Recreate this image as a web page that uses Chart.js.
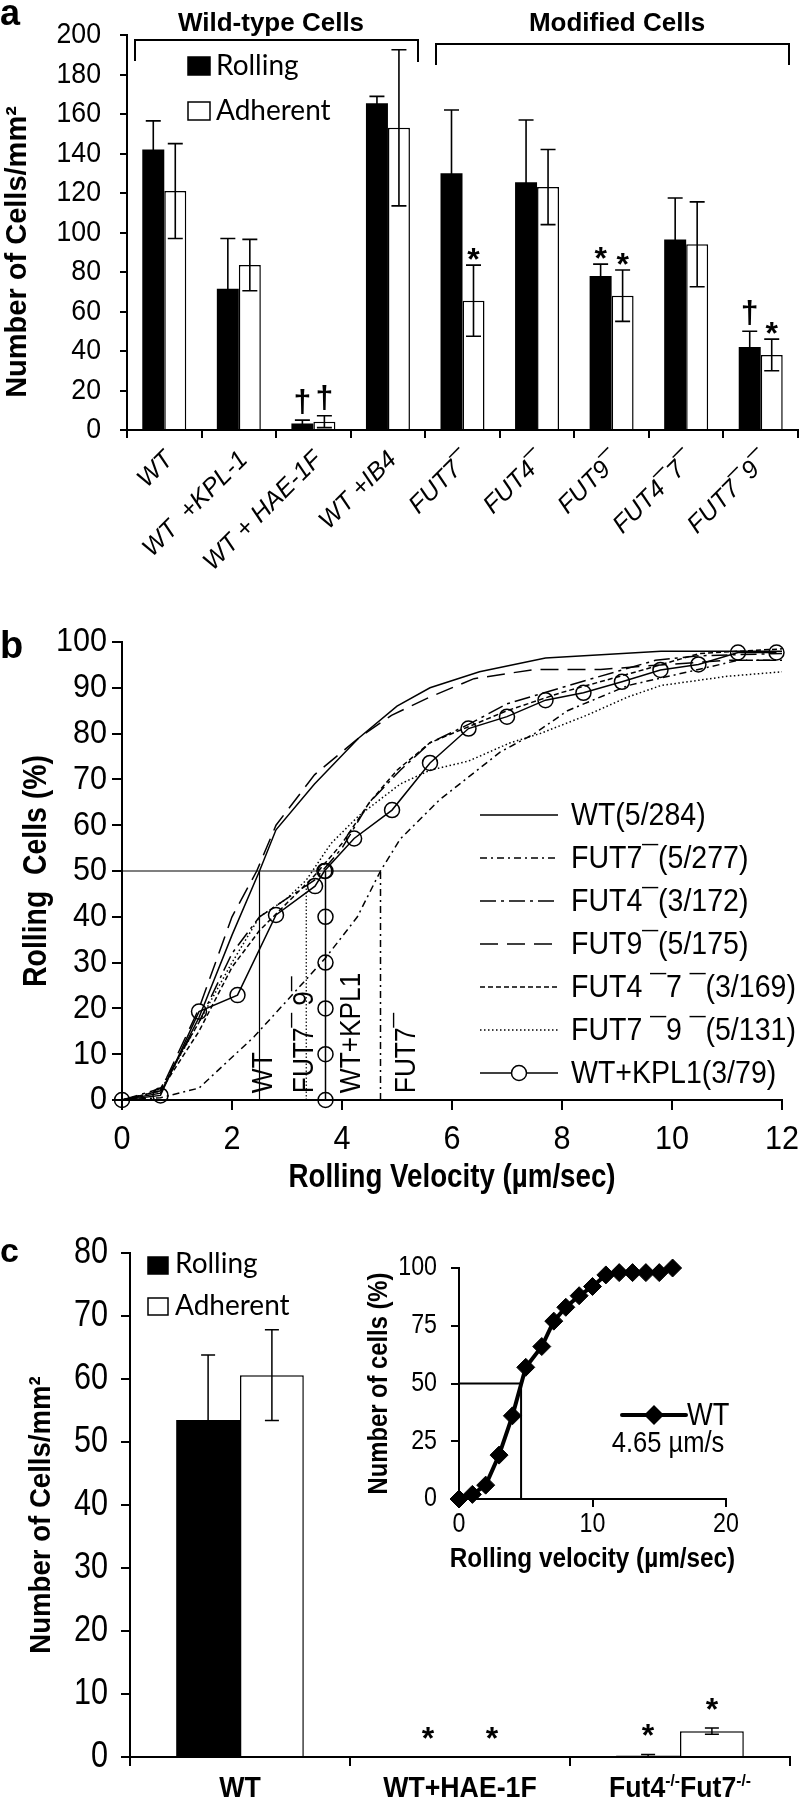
<!DOCTYPE html>
<html>
<head>
<meta charset="utf-8">
<script src="https://cdn.jsdelivr.net/npm/chart.js@4.4.1/dist/chart.umd.min.js"></script>
<style>
  body { margin: 0; background: #fff; width: 800px; height: 1800px; position: relative; overflow: hidden; }
  canvas { position: absolute; }
</style>
</head>
<body>
<canvas id="chartA" width="800" height="590" style="left:0;top:0;width:800px;height:590px"></canvas>
<canvas id="chartB" width="800" height="620" style="left:0;top:590px;width:800px;height:620px"></canvas>
<canvas id="chartC" width="800" height="590" style="left:0;top:1210px;width:800px;height:590px"></canvas>
<canvas id="chartInset" width="390" height="340" style="left:360px;top:1240px;width:390px;height:340px"></canvas>
<script>
document.addEventListener('DOMContentLoaded', function() {
    "use strict";

    var SANS = "'Liberation Sans', Arial, Helvetica, sans-serif";
    var CALI = "Lato, 'Open Sans', sans-serif";
    Chart.defaults.font.family = SANS;
    Chart.defaults.color = '#000';

    /* ---- panel a data ---- */
    var aCategories = ['WT', 'WT  +KPL-1', 'WT + HAE-1F', 'WT +IB4', 'FUT7¯', 'FUT4¯', 'FUT9¯', 'FUT4¯7¯', 'FUT7¯9¯'];
    var aRolling = [142, 71.5, 3.3, 165.5, 130, 125.5, 78, 96.5, 42];
    var aRollingErr = [14.5, 25.5, 1.7, 3.4, 32, 31.5, 6, 21, 8];
    var aAdherent = [121, 83.5, 4.2, 153, 65.5, 123, 68, 94, 38];
    var aAdherentErr = [24, 13, 3, 39.5, 18, 19, 13, 21.5, 8];
    var aRollingMarks = ['', '', '†', '', '', '', '*', '', '†'];
    var aAdherentMarks = ['', '', '†', '', '*', '', '*', '', '*'];

    /* ---- panel b data: [velocity, percent] ---- */
    var wtCurve = [[0, 0], [0.7, 1.5], [1.4, 18], [2, 36], [2.5, 50], [2.8, 59], [3.5, 69], [4.3, 79], [5, 86], [5.6, 90], [6.5, 93.5], [7.7, 96.5], [9.8, 98], [12, 98]];
    var fut7Curve = [[0, 0], [0.7, 0.5], [1.4, 2.6], [2.4, 13.8], [3.06, 22.5], [3.7, 31], [4.28, 40], [4.7, 50], [5.06, 57], [5.77, 65.5], [6.88, 76], [7.5, 80], [8.1, 85], [9.2, 90.5], [10.3, 93.5], [11.2, 96], [12, 96]];
    var fut4Curve = [[0, 0], [0.7, 2.5], [1.4, 17], [2, 32], [2.5, 40], [3, 44], [3.5, 48], [4, 55], [4.5, 65], [5.06, 72], [5.6, 78], [6.3, 82], [7, 86.5], [8.4, 91.5], [9.7, 96], [10.5, 97], [12, 97.5]];
    var fut9Curve = [[0, 0], [0.7, 2], [1.4, 20], [2, 40], [2.45, 50], [2.8, 60], [3.5, 71], [4.3, 79], [4.9, 84], [5.6, 88], [6.4, 92], [7.5, 94], [8.7, 94], [9.8, 95], [11, 96], [12, 96]];
    var fut47Curve = [[0, 0], [0.7, 2], [1.4, 15], [2, 29], [2.5, 37], [3, 43], [3.5, 49], [4, 56], [4.5, 65], [5, 72], [5.6, 78], [6.3, 81.5], [7, 85], [8, 89], [9.5, 94], [10.5, 97.5], [12, 98.5]];
    var fut79Curve = [[0, 0], [0.7, 2], [1.4, 17], [2, 30], [2.5, 40], [3, 44], [3.35, 48], [3.8, 56], [4.3, 62], [5.06, 69], [5.6, 72], [6.3, 74], [7.06, 78], [7.6, 80], [8.45, 84], [9.2, 88], [9.8, 90.5], [11, 92.5], [12, 93.5]];
    var kplCurve = [[0, 0], [0.7, 1], [1.4, 19.3], [2.1, 22.9], [2.8, 40.4], [3.51, 46.7], [3.68, 50], [4.22, 57.1], [4.91, 63.3], [5.6, 73.6], [6.3, 81.1], [7.0, 83.7], [7.7, 87.3], [8.39, 88.9], [9.09, 91.3], [9.79, 93.9], [10.48, 95.1], [11.2, 97.7], [11.9, 97.7]];
    var bLegendLabels = ['WT(5/284)', 'FUT7¯(5/277)', 'FUT4¯(3/172)', 'FUT9¯(5/175)', 'FUT4 ¯7 ¯(3/169)', 'FUT7 ¯9 ¯(5/131)', 'WT+KPL1(3/79)'];
    var halfLine = [[0, 50], [4.7, 50]];
    var wtDrop = [[2.5, 0], [2.5, 50]];
    var fut79Drop = [[3.35, 0], [3.35, 47]];
    var kplDrop = [[3.7, 0], [3.7, 10], [3.7, 20], [3.7, 30], [3.7, 40], [3.7, 50]];
    var fut7Drop = [[4.7, 0], [4.7, 50]];
    var dropLabels = ['WT', 'FUT7¯ 9¯', 'WT+KPL1', 'FUT7¯'];
    var dropLabelX = [2.57, 3.33, 4.17, 5.17];

    /* ---- panel c data ---- */
    var cCategories = ['WT', 'WT+HAE-1F', 'Fut4-/-Fut7-/-'];
    var cRolling = [53.5, 0, 0.2];
    var cRollingErr = [10.3, 0, 0.2];
    var cAdherent = [60.6, 0, 4.1];
    var cAdherentErr = [7.2, 0, 0.5];
    var cRollingMarks = ['', '*', '*'];
    var cAdherentMarks = ['', '*', '*'];

    /* ---- inset data ---- */
    var insetVelocity = [0, 1, 2, 3, 4, 5, 6.2, 7.1, 8, 9, 10, 11, 12, 13, 14, 15, 16];
    var insetPercent = [0, 2, 6, 19, 36, 57, 66, 77, 83, 88, 92, 97, 98, 98, 98, 98, 100];
    var insetHalf = 4.65;

    function toPoints(pairs) {
        return pairs.map(function(p) { return { x: p[0], y: p[1] }; });
    }

    function blackAxis(tickLen) {
        return {
            border: { display: true, color: '#000', width: 2 },
            grid: { drawOnChartArea: false, drawTicks: true, tickLength: tickLen, color: '#000', lineWidth: 2 },
            ticks: { display: false }
        };
    }

    function drawText(ctx, text, x, y, o) {
        ctx.save();
        ctx.fillStyle = '#000';
        ctx.font = o.font;
        ctx.textAlign = o.align || 'center';
        ctx.textBaseline = o.baseline || 'middle';
        ctx.translate(x, y);
        if (o.rotate) ctx.rotate(o.rotate);
        ctx.scale(o.sx || 1, 1);
        ctx.fillText(text, 0, 0);
        ctx.restore();
    }

    // tick labels and axis titles, drawn from the chart's own scales
    var axisText = {
        id: 'axisText',
        afterDraw: function(chart, args, opts) {
            var ctx = chart.ctx;
            var area = chart.chartArea;
            (opts.ticks || []).forEach(function(a) {
                var s = chart.scales[a.id];
                s.ticks.forEach(function(t, i) {
                    var p = s.getPixelForTick(i);
                    var label = a.labels ? a.labels[i] : String(t.value);
                    if (a.id === 'y') {
                        drawText(ctx, label, s.right - a.offset, p, { font: a.font, align: 'right', sx: a.sx });
                    } else if (a.rotate) {
                        drawText(ctx, label, p + (a.dx || 0), s.top + a.offset, { font: a.font, align: 'right', rotate: a.rotate, sx: a.sx });
                    } else {
                        drawText(ctx, label, p, s.top + a.offset, { font: a.font, sx: a.sx });
                    }
                });
            });
            (opts.titles || []).forEach(function(t) {
                if (t.axis === 'y') {
                    drawText(ctx, t.text, t.x, t.y !== undefined ? t.y : (area.top + area.bottom) / 2,
                             { font: t.font, rotate: -Math.PI / 2, sx: t.sx });
                } else {
                    drawText(ctx, t.text, (area.left + area.right) / 2, t.y, { font: t.font, sx: t.sx });
                }
            });
        }
    };

    // error bars + significance marks on bar charts
    var errorBars = {
        id: 'errorBars',
        afterDatasetsDraw: function(chart, args, opts) {
            var ctx = chart.ctx;
            var yScale = chart.scales.y;
            ctx.save();
            ctx.strokeStyle = '#000';
            ctx.fillStyle = '#000';
            ctx.lineWidth = opts.lineWidth;
            ctx.font = opts.markFont;
            ctx.textAlign = 'center';
            ctx.textBaseline = 'alphabetic';
            opts.errors.forEach(function(errs, di) {
                var values = chart.data.datasets[di].data;
                chart.getDatasetMeta(di).data.forEach(function(bar, i) {
                    var hi = yScale.getPixelForValue(values[i] + errs[i]);
                    var lo = yScale.getPixelForValue(Math.max(values[i] - errs[i], 0));
                    if (errs[i] > 0) {
                        ctx.beginPath();
                        ctx.moveTo(bar.x, hi); ctx.lineTo(bar.x, lo);
                        ctx.moveTo(bar.x - opts.cap, hi); ctx.lineTo(bar.x + opts.cap, hi);
                        ctx.moveTo(bar.x - opts.cap, lo); ctx.lineTo(bar.x + opts.cap, lo);
                        ctx.stroke();
                    }
                    var mark = opts.marks[di][i];
                    if (mark) {
                        var m = ctx.measureText(mark);
                        ctx.fillText(mark, bar.x, hi - opts.gap - m.actualBoundingBoxDescent);
                    }
                });
            });
            ctx.restore();
        }
    };

    function drawSwatch(ctx, x, y, w, h, fill) {
        ctx.fillStyle = fill;
        ctx.fillRect(x, y, w, h);
        ctx.strokeStyle = '#000';
        ctx.lineWidth = 1.5;
        ctx.strokeRect(x, y, w, h);
    }

    /*Panel a*/
    var panelA = {
        id: 'panelA',
        afterDraw: function(chart) {
            var ctx = chart.ctx;
            ctx.save();
            drawText(ctx, 'a', 0, 25, { font: 'bold 36px ' + SANS, align: 'left', baseline: 'alphabetic' });

            ctx.strokeStyle = '#000';
            ctx.lineWidth = 2;
            ctx.beginPath();
            ctx.moveTo(135, 61); ctx.lineTo(135, 40); ctx.lineTo(418, 40); ctx.lineTo(418, 62);
            ctx.moveTo(436, 65); ctx.lineTo(436, 44); ctx.lineTo(789, 44); ctx.lineTo(789, 65);
            ctx.stroke();

            drawText(ctx, 'Wild-type Cells', 271, 31, { font: 'bold 26px ' + SANS, baseline: 'alphabetic' });
            drawText(ctx, 'Modified Cells', 617, 31, { font: 'bold 26px ' + SANS, baseline: 'alphabetic' });

            drawSwatch(ctx, 188, 57, 22, 18, '#000');
            drawSwatch(ctx, 188, 102, 22, 18, '#fff');
            drawText(ctx, 'Rolling', 216, 66, { font: '28px ' + CALI, align: 'left' });
            drawText(ctx, 'Adherent', 216, 111, { font: '28px ' + CALI, align: 'left' });
            ctx.restore();
        }
    };

    var axA = blackAxis(8);
    var ayA = blackAxis(7);
    new Chart(document.getElementById('chartA'), {
        type: 'bar',
        data: {
            labels: aCategories,
            datasets: [
                { label: 'Rolling', data: aRolling, backgroundColor: '#000', borderWidth: 0 },
                { label: 'Adherent', data: aAdherent, backgroundColor: '#fff', borderColor: '#000', borderWidth: 1.5 }
            ]
        },
        options: {
            responsive: false,
            animation: false,
            devicePixelRatio: 1,
            layout: { padding: { top: 35, right: 2, left: 0, bottom: 0 } },
            datasets: { bar: { categoryPercentage: 0.59, barPercentage: 1 } },
            plugins: {
                legend: { display: false },
                tooltip: { enabled: false },
                errorBars: {
                    errors: [aRollingErr, aAdherentErr],
                    marks: [aRollingMarks, aAdherentMarks],
                    cap: 7.5, lineWidth: 1.6, gap: 5,
                    markFont: 'bold 32px ' + SANS
                },
                axisText: {
                    ticks: [
                        { id: 'y', offset: 26, font: '29px ' + SANS, sx: 0.92 },
                        { id: 'x', offset: 26, dx: 5, rotate: -Math.PI / 4, labels: aCategories, font: 'italic 25px ' + SANS }
                    ],
                    titles: [{ axis: 'y', text: 'Number of Cells/mm²', x: 18, y: 252, font: 'bold 29px ' + SANS }]
                }
            },
            scales: {
                x: { border: axA.border, grid: axA.grid, ticks: axA.ticks, afterFit: function(s) { s.height = 160; } },
                y: { min: 0, max: 200, border: ayA.border, grid: ayA.grid,
                     ticks: { display: false, stepSize: 20 }, afterFit: function(s) { s.width = 127; } }
            }
        },
        plugins: [errorBars, axisText, panelA]
    });

    /*Panel b*/
    var lineLegend = {
        id: 'lineLegend',
        afterDraw: function(chart, args, opts) {
            var ctx = chart.ctx;
            ctx.save();
            opts.entries.forEach(function(di, row) {
                var ds = chart.data.datasets[di];
                var y = opts.y + row * opts.rowGap;
                ctx.strokeStyle = '#000';
                ctx.lineWidth = ds.borderWidth;
                ctx.setLineDash(ds.borderDash || []);
                ctx.beginPath();
                ctx.moveTo(opts.x0, y); ctx.lineTo(opts.x1, y);
                ctx.stroke();
                ctx.setLineDash([]);
                if (ds.pointRadius > 0) {
                    ctx.fillStyle = '#fff';
                    ctx.beginPath();
                    ctx.arc((opts.x0 + opts.x1) / 2, y, ds.pointRadius, 0, Math.PI * 2);
                    ctx.fill();
                    ctx.stroke();
                }
                drawText(ctx, ds.label, opts.textX, y + 1, { font: opts.font, align: 'left', sx: opts.sx });
            });
            ctx.restore();
        }
    };

    var panelB = {
        id: 'panelB',
        afterDraw: function(chart) {
            var ctx = chart.ctx;
            var xs = chart.scales.x, ys = chart.scales.y;
            drawText(ctx, 'b', 0, 68, { font: 'bold 38px ' + SANS, align: 'left', baseline: 'alphabetic' });
            dropLabels.forEach(function(txt, i) {
                drawText(ctx, txt, xs.getPixelForValue(dropLabelX[i]), ys.getPixelForValue(1.5),
                         { font: '30px ' + SANS, align: 'left', rotate: -Math.PI / 2, sx: 0.875 });
            });
        }
    };

    function curve(label, pairs, dash) {
        return { label: label, data: toPoints(pairs), showLine: true, borderColor: '#000', borderWidth: 1.5,
                 borderDash: dash, pointRadius: 0, fill: false, tension: 0 };
    }
    function withCircles(ds) {
        ds.pointRadius = 7.5;
        ds.pointBorderWidth = 1.5;
        ds.pointBorderColor = '#000';
        ds.pointBackgroundColor = 'rgba(0,0,0,0)';
        ds.clip = false;
        return ds;
    }
    var halfSet = curve('half', halfLine, []); halfSet.borderWidth = 1.2;
    var wtDropSet = curve('wtDrop', wtDrop, []); wtDropSet.borderWidth = 1.2;
    var fut79DropSet = curve('fut79Drop', fut79Drop, [1.5, 2]); fut79DropSet.borderWidth = 1.2;
    var fut7DropSet = curve('fut7Drop', fut7Drop, [7, 4, 2, 4]);

    var axB = blackAxis(10);
    var ayB = blackAxis(10);
    new Chart(document.getElementById('chartB'), {
        type: 'scatter',
        data: {
            datasets: [
                curve(bLegendLabels[0], wtCurve, []),
                curve(bLegendLabels[1], fut7Curve, [7, 4, 2, 4]),
                curve(bLegendLabels[2], fut4Curve, [16, 5, 3, 5]),
                curve(bLegendLabels[3], fut9Curve, [18, 9]),
                curve(bLegendLabels[4], fut47Curve, [5, 3]),
                curve(bLegendLabels[5], fut79Curve, [1.5, 2.5]),
                withCircles(curve(bLegendLabels[6], kplCurve, [])),
                halfSet, wtDropSet, fut79DropSet, withCircles(curve('kplDrop', kplDrop, [])), fut7DropSet
            ]
        },
        options: {
            responsive: false,
            animation: false,
            devicePixelRatio: 1,
            layout: { padding: { top: 52, right: 18, left: 0, bottom: 0 } },
            plugins: {
                legend: { display: false },
                tooltip: { enabled: false },
                lineLegend: { entries: [0, 1, 2, 3, 4, 5, 6], x0: 480, x1: 558, textX: 571, y: 225, rowGap: 43, font: '31px ' + SANS, sx: 0.92 },
                axisText: {
                    ticks: [
                        { id: 'y', offset: 15, font: '34px ' + SANS, sx: 0.9 },
                        { id: 'x', offset: 40, font: '34px ' + SANS, sx: 0.9 }
                    ],
                    titles: [
                        { axis: 'y', text: 'Rolling  Cells (%)', x: 37, font: 'bold 33px ' + SANS, sx: 0.86 },
                        { axis: 'x', text: 'Rolling Velocity (µm/sec)', y: 588, font: 'bold 33px ' + SANS, sx: 0.84 }
                    ]
                }
            },
            scales: {
                x: { type: 'linear', min: 0, max: 12, border: axB.border, grid: axB.grid,
                     ticks: { display: false, stepSize: 2 }, afterFit: function(s) { s.height = 110; } },
                y: { min: 0, max: 100, border: ayB.border, grid: ayB.grid,
                     ticks: { display: false, stepSize: 10 }, afterFit: function(s) { s.width = 122; } }
            }
        },
        plugins: [lineLegend, axisText, panelB]
    });

    /*Panel c*/
    function drawRichLabel(ctx, text, cx, cy, size, sx) {
        var parts = text.split(/(-\/-)/);
        var big = 'bold ' + size + 'px ' + SANS;
        var small = 'bold ' + Math.round(size * 0.6) + 'px ' + SANS;
        var w = 0;
        parts.forEach(function(p) { ctx.font = p === '-/-' ? small : big; w += ctx.measureText(p).width; });
        ctx.save();
        ctx.translate(cx, cy);
        ctx.scale(sx, 1);
        var x = -w / 2;
        parts.forEach(function(p) {
            var sup = p === '-/-';
            ctx.font = sup ? small : big;
            ctx.fillText(p, x, sup ? -size * 0.38 : 0);
            x += ctx.measureText(p).width;
        });
        ctx.restore();
    }

    var panelC = {
        id: 'panelC',
        afterDraw: function(chart) {
            var ctx = chart.ctx;
            var xs = chart.scales.x;
            ctx.save();
            drawText(ctx, 'c', 0, 52, { font: 'bold 34px ' + SANS, align: 'left', baseline: 'alphabetic' });
            drawSwatch(ctx, 148, 47, 20, 17, '#000');
            drawSwatch(ctx, 148, 88, 20, 17, '#fff');
            drawText(ctx, 'Rolling', 175, 54, { font: '28px ' + CALI, align: 'left' });
            drawText(ctx, 'Adherent', 175, 96, { font: '28px ' + CALI, align: 'left' });
            ctx.fillStyle = '#000';
            ctx.textBaseline = 'alphabetic';
            cCategories.forEach(function(lab, i) {
                drawRichLabel(ctx, lab, xs.getPixelForValue(i), chart.chartArea.bottom + 40, 29, 0.92);
            });
            ctx.restore();
        }
    };

    var axC = blackAxis(9);
    var ayC = blackAxis(9);
    new Chart(document.getElementById('chartC'), {
        type: 'bar',
        data: {
            labels: cCategories,
            datasets: [
                { label: 'Rolling', data: cRolling, backgroundColor: '#000', borderWidth: 0 },
                { label: 'Adherent', data: cAdherent, backgroundColor: '#fff', borderColor: '#000', borderWidth: 1.5 }
            ]
        },
        options: {
            responsive: false,
            animation: false,
            devicePixelRatio: 1,
            layout: { padding: { top: 43, right: 10, left: 0, bottom: 0 } },
            datasets: { bar: { categoryPercentage: 0.58, barPercentage: 1 } },
            plugins: {
                legend: { display: false },
                tooltip: { enabled: false },
                errorBars: {
                    errors: [cRollingErr, cAdherentErr],
                    marks: [cRollingMarks, cAdherentMarks],
                    cap: 7, lineWidth: 1.5, gap: 18,
                    markFont: 'bold 32px ' + SANS
                },
                axisText: {
                    ticks: [{ id: 'y', offset: 22, font: '36px ' + SANS, sx: 0.85 }],
                    titles: [{ axis: 'y', text: 'Number of Cells/mm²', x: 42, y: 305, font: 'bold 30px ' + SANS, sx: 0.92 }]
                }
            },
            scales: {
                x: { border: axC.border, grid: axC.grid, ticks: axC.ticks, afterFit: function(s) { s.height = 43; } },
                y: { min: 0, max: 80, border: ayC.border, grid: ayC.grid,
                     ticks: { display: false, stepSize: 10 }, afterFit: function(s) { s.width = 130; } }
            }
        },
        plugins: [errorBars, axisText, panelC]
    });

    /*Inset*/
    var insetLegend = {
        id: 'insetLegend',
        afterDraw: function(chart) {
            var ctx = chart.ctx;
            ctx.save();
            ctx.strokeStyle = '#000';
            ctx.fillStyle = '#000';
            ctx.lineWidth = 4;
            ctx.lineCap = 'round';
            ctx.beginPath();
            ctx.moveTo(262, 175); ctx.lineTo(326, 175);
            ctx.stroke();
            ctx.beginPath();
            ctx.moveTo(294, 165); ctx.lineTo(304, 175); ctx.lineTo(294, 185); ctx.lineTo(284, 175);
            ctx.closePath();
            ctx.fill();
            ctx.restore();
            drawText(ctx, 'WT', 327, 176, { font: '31px ' + SANS, align: 'left', sx: 0.88 });
            drawText(ctx, '4.65 µm/s', 308, 204, { font: '29px ' + SANS, sx: 0.88 });
        }
    };

    var axI = blackAxis(8);
    var ayI = blackAxis(8);
    new Chart(document.getElementById('chartInset'), {
        type: 'scatter',
        data: {
            datasets: [
                {
                    label: 'WT',
                    data: insetVelocity.map(function(v, i) { return { x: v, y: insetPercent[i] }; }),
                    showLine: true, borderColor: '#000', borderWidth: 4,
                    pointStyle: 'rectRot', pointRadius: 9, pointBackgroundColor: '#000', pointBorderColor: '#000',
                    pointBorderWidth: 1, clip: false
                },
                { label: 'half', data: [{ x: 0, y: 50 }, { x: insetHalf, y: 50 }], showLine: true, borderColor: '#000', borderWidth: 2, pointRadius: 0 },
                { label: 'drop', data: [{ x: insetHalf, y: 0 }, { x: insetHalf, y: 50 }], showLine: true, borderColor: '#000', borderWidth: 2, pointRadius: 0 }
            ]
        },
        options: {
            responsive: false,
            animation: false,
            devicePixelRatio: 1,
            layout: { padding: { top: 28, right: 24, left: 0, bottom: 0 } },
            plugins: {
                legend: { display: false },
                tooltip: { enabled: false },
                axisText: {
                    ticks: [
                        { id: 'y', offset: 22, font: '27px ' + SANS, sx: 0.86 },
                        { id: 'x', offset: 26, font: '27px ' + SANS, sx: 0.86 }
                    ],
                    titles: [
                        { axis: 'y', text: 'Number of cells (%)', x: 20, font: 'bold 27px ' + SANS, sx: 0.88 },
                        { axis: 'x', text: 'Rolling velocity (µm/sec)', y: 320, font: 'bold 27px ' + SANS, sx: 0.9 }
                    ]
                }
            },
            scales: {
                x: { type: 'linear', min: 0, max: 20, border: axI.border, grid: axI.grid,
                     ticks: { display: false, stepSize: 10 }, afterFit: function(s) { s.height = 81; } },
                y: { min: 0, max: 100, border: ayI.border, grid: ayI.grid,
                     ticks: { display: false, stepSize: 25 }, afterFit: function(s) { s.width = 99; } }
            }
        },
        plugins: [axisText, insetLegend]
    });
});
</script>
</body>
</html>
